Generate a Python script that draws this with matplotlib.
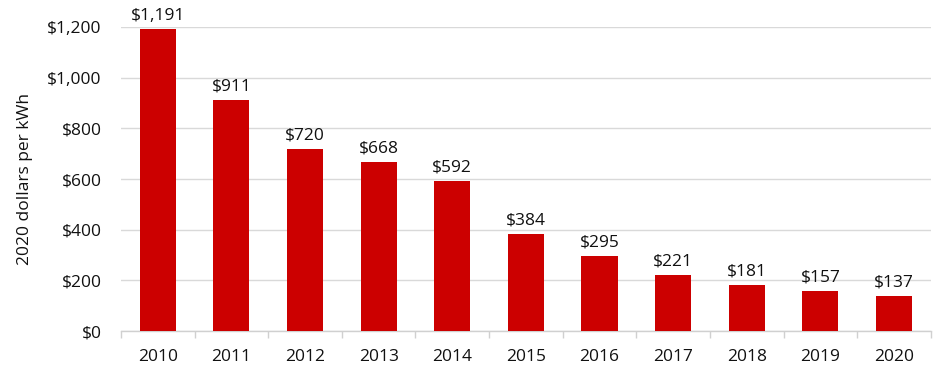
import numpy as np
import matplotlib.pyplot as plt
from matplotlib.ticker import FuncFormatter

years = ['2010', '2011', '2012', '2013', '2014', '2015', '2016', '2017', '2018', '2019', '2020']
cost = [1191, 911, 720, 668, 592, 384, 295, 221, 181, 157, 137]

plt.rcParams['font.family'] = ['Open Sans', 'DejaVu Sans']

fig = plt.figure(figsize=(9.45, 3.77), dpi=100)
ax = fig.add_axes([0.128, 0.122, 0.857, 0.806])

x = np.arange(len(years))
ax.bar(x, cost, width=0.49, color='#cc0000', zorder=3)
for xi, v in zip(x, cost):
    ax.text(xi, v + 22, '${:,}'.format(v), ha='center', va='bottom', fontsize=12.5, color='#111111')

ax.set_xlim(-0.5, len(years) - 0.5)
ax.set_ylim(0, 1200)
ax.set_yticks(np.arange(0, 1201, 200))
ax.yaxis.set_major_formatter(FuncFormatter(lambda v, p: '${:,.0f}'.format(v)))
ax.set_xticks(x)
ax.set_xticklabels(years)
ax.set_xticks(np.arange(-0.5, len(years), 1), minor=True)
ax.tick_params(axis='x', which='major', length=0, pad=13, labelsize=12.5, labelcolor='#111111')
ax.tick_params(axis='x', which='minor', length=5, color='#d0d0d0', width=1)
ax.tick_params(axis='y', length=0, pad=14, labelsize=12.5, labelcolor='#111111')
ax.grid(axis='y', color='#d9d9d9', linewidth=1, zorder=0)
for s in ['top', 'right', 'left']:
    ax.spines[s].set_visible(False)
ax.spines['bottom'].set_color('#d0d0d0')
ax.spines['bottom'].set_linewidth(1)
ax.set_ylabel('2020 dollars per kWh', fontsize=12.5, color='#111111', labelpad=10)

fig.savefig('out.png', dpi=100)
